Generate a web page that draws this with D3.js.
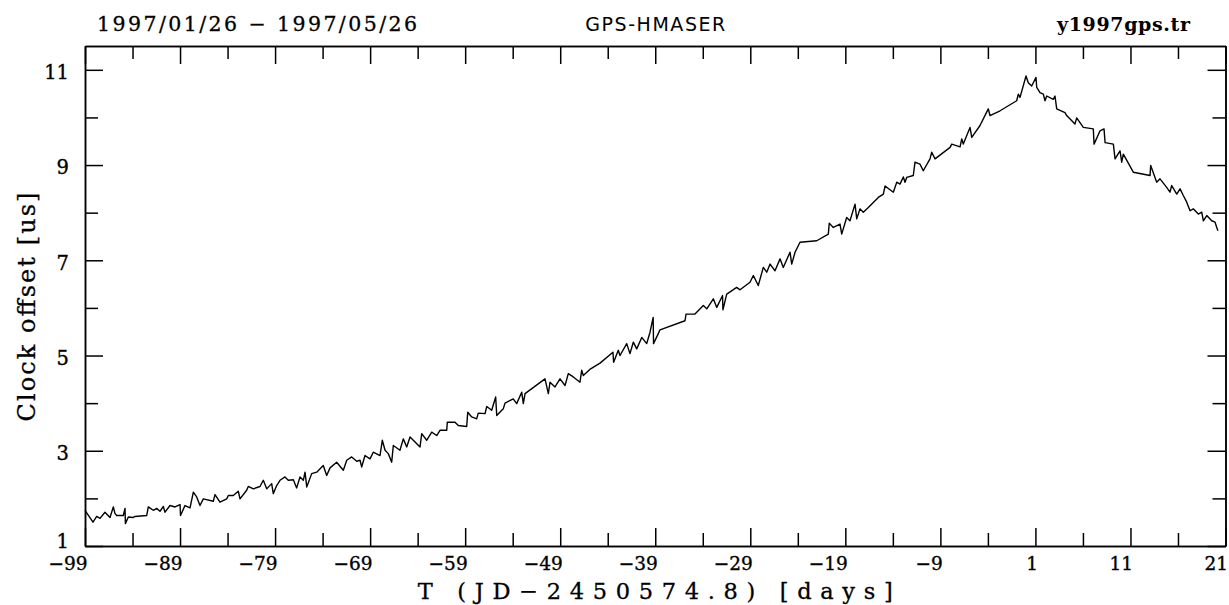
<!DOCTYPE html>
<html>
<head>
<meta charset="utf-8">
<script src="https://cdn.jsdelivr.net/npm/d3@7"></script>
<style>
  body { margin: 0; background: #fff; }
  svg { display: block; background: #fff; }
  .axis path, .axis line { stroke: #000; stroke-width: 1.5; }
  .axis text { font-family: "DejaVu Serif", serif; font-size: 18.5px; fill: #000; stroke: #000; stroke-width: 0.35; }
  .line { fill: none; stroke: #000; stroke-width: 1.4; stroke-linejoin: round; }
  .label { font-family: "DejaVu Serif", serif; fill: #000; stroke: #000; stroke-width: 0.3; }
</style>
</head>
<body>
<svg width="1229" height="605"></svg>
<script>
// days relative to JD 2450574.8
var days = [
  -99.00, -98.16, -97.77, -97.42, -96.90, -96.37, -96.02, -95.84, -95.66, -94.97,
  -94.79, -94.75, -94.44, -93.92, -93.74, -92.51, -92.34, -91.81, -91.46, -91.11,
  -90.76, -90.58, -90.06, -89.53, -89.00, -88.95, -88.48, -87.95, -87.60, -87.25,
  -86.90, -86.55, -85.50, -85.32, -84.80, -84.09, -83.92, -83.40, -82.87, -82.69,
  -81.99, -81.82, -81.29, -80.59, -80.24, -79.88, -79.36, -79.19, -78.83, -78.48,
  -77.96, -77.61, -77.08, -76.73, -76.38, -76.03, -75.85, -75.67, -75.15, -74.62,
  -73.93, -73.57, -73.22, -72.52, -71.82, -71.46, -70.94, -70.41, -70.06, -69.89,
  -69.54, -69.01, -68.67, -67.96, -67.72, -67.43, -67.09, -66.73, -66.56, -65.86,
  -65.51, -65.15, -64.80, -64.46, -63.75, -63.57, -63.05, -62.52, -61.99, -61.65,
  -60.94, -60.88, -60.07, -59.72, -58.84, -58.73, -58.31, -57.79, -57.62, -56.91,
  -56.73, -56.21, -55.79, -55.68, -54.99, -54.81, -53.94, -53.58, -53.05, -52.88,
  -52.70, -50.60, -50.25, -50.07, -49.55, -49.02, -48.49, -48.15, -47.62, -46.92,
  -46.74, -46.57, -45.80, -44.81, -43.45, -43.38, -42.89, -42.71, -42.00, -41.66,
  -41.31, -40.95, -40.42, -39.90, -39.55, -39.22, -39.18, -38.68, -38.50, -35.87,
  -35.76, -34.82, -33.94, -33.58, -32.89, -32.53, -31.92, -31.88, -31.48, -30.43,
  -30.08, -29.03, -28.68, -28.16, -27.63, -27.27, -26.92, -26.40, -25.87, -25.53,
  -24.82, -24.64, -24.29, -23.77, -22.01, -20.79, -20.69, -20.27, -19.56, -19.38,
  -18.86, -18.51, -17.98, -17.80, -17.46, -17.11, -16.58, -15.53, -15.00, -14.82,
  -13.95, -13.59, -13.25, -12.90, -12.72, -12.54, -11.85, -11.67, -11.15, -10.80,
  -10.09, -9.91, -9.56, -7.98, -7.81, -6.93, -6.75, -6.59, -5.88, -5.70,
  -4.83, -3.96, -3.78, -2.72, -0.97, -0.80, -0.62, 0.01, 0.25, 0.61,
  1.06, 1.14, 1.48, 1.83, 2.01, 2.19, 2.88, 3.06, 3.24, 4.11,
  4.29, 5.16, 5.34, 6.04, 7.09, 7.17, 7.80, 8.22, 8.33, 9.20,
  9.38, 9.90, 10.08, 10.25, 11.30, 13.06, 13.13, 13.76, 14.11, 14.81,
  15.16, 15.34, 15.87, 16.22, 16.56, 16.92, 17.27, 17.61, 18.14, 18.50,
  18.67, 19.03, 19.55, 19.90, 20.08, 20.20
];

// clock offset GPS - H maser, microseconds
var offsetUs = [
  1.75, 1.50, 1.62, 1.58, 1.71, 1.60, 1.82, 1.68, 1.64, 1.64,
  1.79, 1.47, 1.61, 1.60, 1.62, 1.64, 1.82, 1.75, 1.79, 1.73,
  1.83, 1.71, 1.85, 1.82, 1.87, 1.64, 1.85, 1.80, 2.13, 2.03,
  1.85, 1.99, 1.94, 2.08, 1.92, 1.99, 2.06, 2.06, 2.15, 1.99,
  2.17, 2.25, 2.20, 2.25, 2.38, 2.20, 2.31, 2.10, 2.27, 2.38,
  2.45, 2.38, 2.39, 2.22, 2.45, 2.38, 2.55, 2.24, 2.52, 2.55,
  2.69, 2.48, 2.64, 2.76, 2.59, 2.80, 2.87, 2.78, 2.80, 2.66,
  2.90, 2.83, 2.97, 2.90, 3.22, 3.01, 2.94, 2.76, 3.11, 3.01,
  3.25, 3.08, 3.29, 3.22, 3.08, 3.36, 3.22, 3.39, 3.32, 3.43,
  3.43, 3.60, 3.60, 3.53, 3.51, 3.81, 3.71, 3.67, 3.79, 3.78,
  3.93, 3.85, 4.13, 3.74, 3.88, 4.00, 4.09, 3.99, 4.23, 3.99,
  4.20, 4.51, 4.20, 4.44, 4.34, 4.51, 4.37, 4.62, 4.55, 4.44,
  4.69, 4.58, 4.72, 4.84, 5.07, 4.86, 5.11, 5.00, 5.25, 5.04,
  5.28, 5.14, 5.38, 5.25, 5.49, 5.80, 5.25, 5.46, 5.54, 5.73,
  5.87, 5.87, 6.05, 5.98, 6.19, 6.01, 6.26, 5.96, 6.29, 6.43,
  6.38, 6.54, 6.68, 6.47, 6.85, 6.75, 6.92, 6.78, 7.03, 6.85,
  7.17, 6.92, 7.17, 7.38, 7.41, 7.55, 7.78, 7.69, 7.76, 7.55,
  7.90, 7.83, 8.18, 7.87, 8.08, 8.01, 8.11, 8.32, 8.39, 8.56,
  8.43, 8.64, 8.60, 8.75, 8.64, 8.74, 8.78, 9.06, 9.02, 8.88,
  9.13, 9.27, 9.13, 9.37, 9.44, 9.38, 9.55, 9.44, 9.79, 9.58,
  9.83, 10.18, 10.04, 10.14, 10.35, 10.49, 10.42, 10.87, 10.73, 10.66,
  10.84, 10.63, 10.52, 10.49, 10.35, 10.45, 10.38, 10.45, 10.18, 10.10,
  10.04, 9.86, 9.99, 9.79, 9.76, 9.44, 9.72, 9.76, 9.47, 9.44,
  9.13, 9.30, 9.06, 9.23, 8.85, 8.78, 8.99, 8.64, 8.71, 8.53,
  8.43, 8.57, 8.39, 8.50, 8.36, 8.22, 8.04, 8.08, 7.97, 8.01,
  7.83, 7.94, 7.83, 7.80, 7.69, 7.62
];

var xMajorTicks = [-99, -89, -79, -69, -59, -49, -39, -29, -19, -9, 1, 11, 21],
    xMinorTicks = [-94, -84, -74, -64, -54, -44, -34, -24, -14, -4, 6, 16],
    yMajorTicks = [1, 3, 5, 7, 9, 11],
    yMinorTicks = [2, 4, 6, 8, 10];

var svg = d3.select("svg"),
    margin = {top: 46, right: 3.5, bottom: 59, left: 85},
    width = +svg.attr("width") - margin.left - margin.right,
    height = +svg.attr("height") - margin.top - margin.bottom;

var x = d3.scaleLinear().domain([-99, 21]).range([0, width]),
    y = d3.scaleLinear().domain([1, 11.5]).range([height, 0]);

var minus = function(d) { return String(d).replace("-", "\u2212"); };

var g = svg.append("g")
    .attr("transform", "translate(" + margin.left + "," + margin.top + ")");

// curve
var line = d3.line()
    .x(function(d) { return x(d[0]); })
    .y(function(d) { return y(d[1]); });

g.append("path")
    .datum(days.map(function(d, i) { return [d, offsetUs[i]]; }))
    .attr("class", "line")
    .attr("d", line);

// frame with inward ticks on all four sides
g.append("g")
    .attr("class", "axis axis--x")
    .attr("transform", "translate(0," + height + ")")
    .call(d3.axisBottom(x).tickValues(xMajorTicks).tickSizeInner(-18).tickSizeOuter(0)
      .tickPadding(11).tickFormat(minus))
    .selectAll("text")
    .attr("text-anchor", "end")
    .attr("x", 2);

g.append("g")
    .attr("class", "axis")
    .attr("transform", "translate(0," + height + ")")
    .call(d3.axisBottom(x).tickValues(xMinorTicks).tickSizeInner(-13).tickSizeOuter(0).tickFormat(""));

g.append("g")
    .attr("class", "axis")
    .call(d3.axisTop(x).tickValues(xMajorTicks).tickSizeInner(-18).tickSizeOuter(0).tickFormat(""));

g.append("g")
    .attr("class", "axis")
    .call(d3.axisTop(x).tickValues(xMinorTicks).tickSizeInner(-13).tickSizeOuter(0).tickFormat(""));

// the "1" label sits a little higher so it clears the -99 label below it
g.append("g")
    .attr("class", "axis axis--y")
    .call(d3.axisLeft(y).tickValues(yMajorTicks).tickSizeInner(-18).tickSizeOuter(0).tickPadding(16))
    .selectAll("text")
    .style("font-size", "19.5px")
    .attr("dy", function(d) { return d === 1 ? "0.1em" : "0.45em"; });

g.append("g")
    .attr("class", "axis")
    .call(d3.axisLeft(y).tickValues(yMinorTicks).tickSizeInner(-13).tickSizeOuter(0).tickFormat(""));

g.append("g")
    .attr("class", "axis")
    .attr("transform", "translate(" + width + ",0)")
    .call(d3.axisRight(y).tickValues(yMajorTicks).tickSizeInner(-18).tickSizeOuter(0).tickFormat(""));

g.append("g")
    .attr("class", "axis")
    .attr("transform", "translate(" + width + ",0)")
    .call(d3.axisRight(y).tickValues(yMinorTicks).tickSizeInner(-13).tickSizeOuter(0).tickFormat(""));

// headers
svg.append("text")
    .attr("class", "label")
    .attr("x", 97)
    .attr("y", 31)
    .attr("textLength", 320)
    .attr("lengthAdjust", "spacing")
    .style("font-size", "20.5px")
    .text("1997/01/26 \u2212 1997/05/26");

svg.append("text")
    .attr("x", margin.left + width / 2)
    .attr("y", 31)
    .attr("text-anchor", "middle")
    .attr("textLength", 140)
    .attr("lengthAdjust", "spacing")
    .style("font-family", "'DejaVu Sans', sans-serif")
    .style("font-size", "19px")
    .text("GPS-HMASER");

svg.append("text")
    .attr("x", 1190)
    .attr("y", 31)
    .attr("text-anchor", "end")
    .attr("textLength", 133)
    .attr("lengthAdjust", "spacing")
    .style("font-family", "'DejaVu Serif', serif")
    .style("font-weight", "bold")
    .style("font-size", "19px")
    .text("y1997gps.tr");

// axis titles
svg.append("text")
    .attr("class", "label")
    .attr("x", margin.left + width / 2)
    .attr("y", 599)
    .attr("text-anchor", "middle")
    .attr("textLength", 475)
    .attr("lengthAdjust", "spacing")
    .style("font-size", "22.5px")
    .text("T (JD\u22122450574.8) [days]");

svg.append("text")
    .attr("class", "label")
    .attr("transform", "translate(35,307) rotate(-90)")
    .attr("text-anchor", "middle")
    .attr("textLength", 229)
    .attr("lengthAdjust", "spacing")
    .style("font-size", "24px")
    .text("Clock offset [us]");
</script>
</body>
</html>
